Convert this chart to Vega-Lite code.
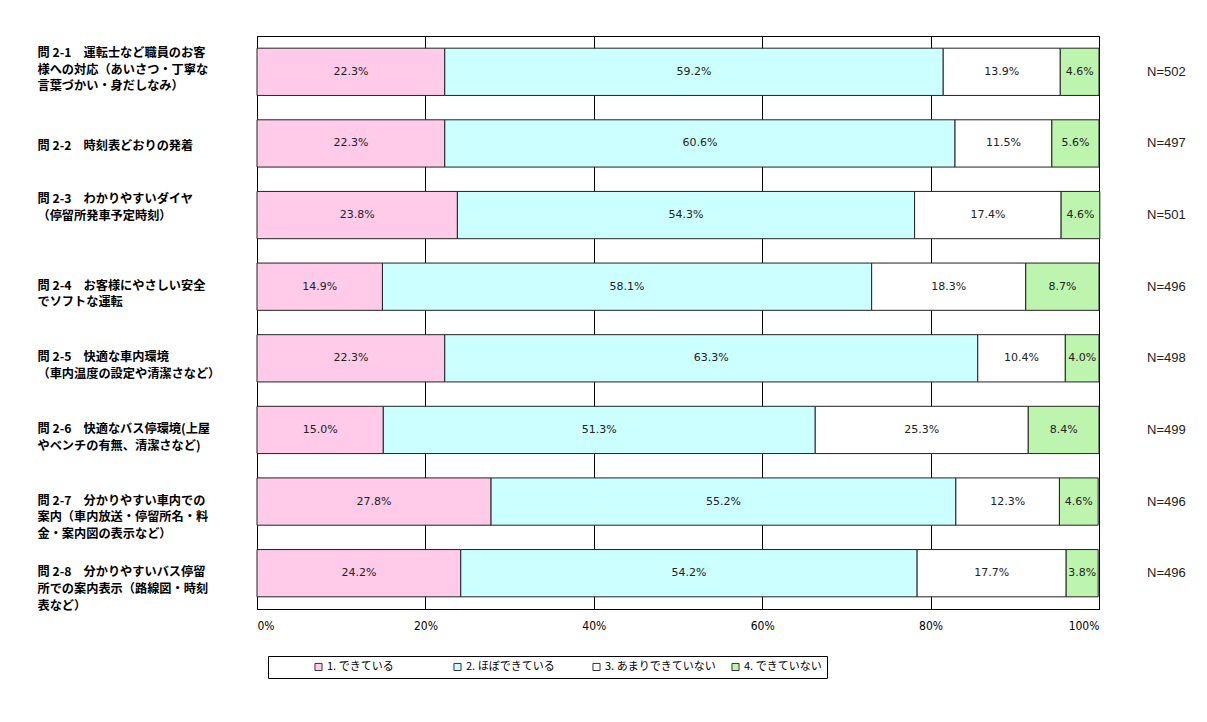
{
  "$schema": "https://vega.github.io/schema/vega-lite/v6.json",
  "width": 842,
  "height": 573,
  "padding": {"left": 37, "top": 36, "right": 5, "bottom": 5},
  "background": "white",
  "datasets": {
    "main": [
      {"q": "問 2-1　運転士など職員のお客|様への対応（あいさつ・丁寧な|言葉づかい・身だしなみ）", "cat": "1. できている", "ord": 1, "v": 22.3, "label": "22.3%"},
      {"q": "問 2-1　運転士など職員のお客|様への対応（あいさつ・丁寧な|言葉づかい・身だしなみ）", "cat": "2. ほぼできている", "ord": 2, "v": 59.2, "label": "59.2%"},
      {"q": "問 2-1　運転士など職員のお客|様への対応（あいさつ・丁寧な|言葉づかい・身だしなみ）", "cat": "3. あまりできていない", "ord": 3, "v": 13.9, "label": "13.9%"},
      {"q": "問 2-1　運転士など職員のお客|様への対応（あいさつ・丁寧な|言葉づかい・身だしなみ）", "cat": "4. できていない", "ord": 4, "v": 4.6, "label": "4.6%"},
      {"q": "問 2-2　時刻表どおりの発着", "cat": "1. できている", "ord": 1, "v": 22.3, "label": "22.3%"},
      {"q": "問 2-2　時刻表どおりの発着", "cat": "2. ほぼできている", "ord": 2, "v": 60.6, "label": "60.6%"},
      {"q": "問 2-2　時刻表どおりの発着", "cat": "3. あまりできていない", "ord": 3, "v": 11.5, "label": "11.5%"},
      {"q": "問 2-2　時刻表どおりの発着", "cat": "4. できていない", "ord": 4, "v": 5.6, "label": "5.6%"},
      {"q": "問 2-3　わかりやすいダイヤ|（停留所発車予定時刻）", "cat": "1. できている", "ord": 1, "v": 23.8, "label": "23.8%"},
      {"q": "問 2-3　わかりやすいダイヤ|（停留所発車予定時刻）", "cat": "2. ほぼできている", "ord": 2, "v": 54.3, "label": "54.3%"},
      {"q": "問 2-3　わかりやすいダイヤ|（停留所発車予定時刻）", "cat": "3. あまりできていない", "ord": 3, "v": 17.4, "label": "17.4%"},
      {"q": "問 2-3　わかりやすいダイヤ|（停留所発車予定時刻）", "cat": "4. できていない", "ord": 4, "v": 4.6, "label": "4.6%"},
      {"q": "問 2-4　お客様にやさしい安全|でソフトな運転", "cat": "1. できている", "ord": 1, "v": 14.9, "label": "14.9%"},
      {"q": "問 2-4　お客様にやさしい安全|でソフトな運転", "cat": "2. ほぼできている", "ord": 2, "v": 58.1, "label": "58.1%"},
      {"q": "問 2-4　お客様にやさしい安全|でソフトな運転", "cat": "3. あまりできていない", "ord": 3, "v": 18.3, "label": "18.3%"},
      {"q": "問 2-4　お客様にやさしい安全|でソフトな運転", "cat": "4. できていない", "ord": 4, "v": 8.7, "label": "8.7%"},
      {"q": "問 2-5　快適な車内環境|（車内温度の設定や清潔さなど）", "cat": "1. できている", "ord": 1, "v": 22.3, "label": "22.3%"},
      {"q": "問 2-5　快適な車内環境|（車内温度の設定や清潔さなど）", "cat": "2. ほぼできている", "ord": 2, "v": 63.3, "label": "63.3%"},
      {"q": "問 2-5　快適な車内環境|（車内温度の設定や清潔さなど）", "cat": "3. あまりできていない", "ord": 3, "v": 10.4, "label": "10.4%"},
      {"q": "問 2-5　快適な車内環境|（車内温度の設定や清潔さなど）", "cat": "4. できていない", "ord": 4, "v": 4.0, "label": "4.0%"},
      {"q": "問 2-6　快適なバス停環境(上屋|やベンチの有無、清潔さなど)", "cat": "1. できている", "ord": 1, "v": 15.0, "label": "15.0%"},
      {"q": "問 2-6　快適なバス停環境(上屋|やベンチの有無、清潔さなど)", "cat": "2. ほぼできている", "ord": 2, "v": 51.3, "label": "51.3%"},
      {"q": "問 2-6　快適なバス停環境(上屋|やベンチの有無、清潔さなど)", "cat": "3. あまりできていない", "ord": 3, "v": 25.3, "label": "25.3%"},
      {"q": "問 2-6　快適なバス停環境(上屋|やベンチの有無、清潔さなど)", "cat": "4. できていない", "ord": 4, "v": 8.4, "label": "8.4%"},
      {"q": "問 2-7　分かりやすい車内での|案内（車内放送・停留所名・料|金・案内図の表示など）", "cat": "1. できている", "ord": 1, "v": 27.8, "label": "27.8%"},
      {"q": "問 2-7　分かりやすい車内での|案内（車内放送・停留所名・料|金・案内図の表示など）", "cat": "2. ほぼできている", "ord": 2, "v": 55.2, "label": "55.2%"},
      {"q": "問 2-7　分かりやすい車内での|案内（車内放送・停留所名・料|金・案内図の表示など）", "cat": "3. あまりできていない", "ord": 3, "v": 12.3, "label": "12.3%"},
      {"q": "問 2-7　分かりやすい車内での|案内（車内放送・停留所名・料|金・案内図の表示など）", "cat": "4. できていない", "ord": 4, "v": 4.6, "label": "4.6%"},
      {"q": "問 2-8　分かりやすいバス停留|所での案内表示（路線図・時刻|表など）", "cat": "1. できている", "ord": 1, "v": 24.2, "label": "24.2%"},
      {"q": "問 2-8　分かりやすいバス停留|所での案内表示（路線図・時刻|表など）", "cat": "2. ほぼできている", "ord": 2, "v": 54.2, "label": "54.2%"},
      {"q": "問 2-8　分かりやすいバス停留|所での案内表示（路線図・時刻|表など）", "cat": "3. あまりできていない", "ord": 3, "v": 17.7, "label": "17.7%"},
      {"q": "問 2-8　分かりやすいバス停留|所での案内表示（路線図・時刻|表など）", "cat": "4. できていない", "ord": 4, "v": 3.8, "label": "3.8%"}
    ],
    "n": [
      {"q": "問 2-1　運転士など職員のお客|様への対応（あいさつ・丁寧な|言葉づかい・身だしなみ）", "N": "N=502"},
      {"q": "問 2-2　時刻表どおりの発着", "N": "N=497"},
      {"q": "問 2-3　わかりやすいダイヤ|（停留所発車予定時刻）", "N": "N=501"},
      {"q": "問 2-4　お客様にやさしい安全|でソフトな運転", "N": "N=496"},
      {"q": "問 2-5　快適な車内環境|（車内温度の設定や清潔さなど）", "N": "N=498"},
      {"q": "問 2-6　快適なバス停環境(上屋|やベンチの有無、清潔さなど)", "N": "N=499"},
      {"q": "問 2-7　分かりやすい車内での|案内（車内放送・停留所名・料|金・案内図の表示など）", "N": "N=496"},
      {"q": "問 2-8　分かりやすいバス停留|所での案内表示（路線図・時刻|表など）", "N": "N=496"}
    ]
  },
  "encoding": {
    "y": {
      "field": "q",
      "type": "nominal",
      "sort": null,
      "title": null,
      "scale": {"paddingInner": 0.34, "paddingOuter": 0.17},
      "axis": {
        "orient": "left",
        "domain": false,
        "ticks": false,
        "grid": false,
        "labelAlign": "left",
        "labelBaseline": "middle",
        "labelPadding": 220,
        "labelOffset": {
          "condition": [
            {"test": "indexof(datum.value, '運転士') >= 0", "value": -19},
            {"test": "indexof(datum.value, 'ダイヤ') >= 0", "value": -16},
            {"test": "indexof(datum.value, '時刻表どおり') >= 0", "value": 3}
          ],
          "value": -1
        },
        "labelExpr": "split(datum.value, '|')",
        "labelFont": "Noto Sans CJK JP",
        "labelFontWeight": "bold",
        "labelFontSize": 12.2,
        "labelLineHeight": 16.7,
        "labelColor": "#000000",
        "labelLimit": 400
      }
    }
  },
  "layer": [
    {
      "data": {"name": "main"},
      "transform": [
        {"stack": "v", "groupby": ["q"], "sort": [{"field": "ord", "order": "ascending"}], "as": ["x0", "x1"]}
      ],
      "mark": {"type": "bar", "stroke": "#222222", "strokeWidth": 1},
      "encoding": {
        "x": {
          "field": "x0",
          "type": "quantitative",
          "title": null,
          "scale": {"domain": [0, 100], "nice": false},
          "axis": {
            "values": [0, 20, 40, 60, 80, 100],
            "labelExpr": "datum.value + '%'",
            "grid": true,
            "gridColor": "#000000",
            "gridOpacity": 1,
            "gridWidth": 1,
            "domain": true,
            "domainColor": "#000000",
            "ticks": false,
            "labelPadding": 11,
            "labelFont": "Liberation Sans Narrow, DejaVu Sans Condensed, sans-serif",
            "labelFontSize": 12,
            "labelColor": "#000000"
          }
        },
        "x2": {"field": "x1"},
        "color": {
          "field": "cat",
          "type": "nominal",
          "scale": {
            "domain": ["1. できている", "2. ほぼできている", "3. あまりできていない", "4. できていない"],
            "range": ["#ffcbe9", "#ccffff", "#ffffff", "#bdf4ae"]
          },
          "legend": {
            "orient": "none",
            "legendX": 11,
            "legendY": 620,
            "direction": "horizontal",
            "gridAlign": "all",
            "title": " ",
            "titleOrient": "left",
            "titlePadding": 40,
            "columnPadding": 13,
            "padding": 5,
            "strokeColor": "#000000",
            "fillColor": "#ffffff",
            "symbolType": "square",
            "symbolSize": 50,
            "symbolStrokeColor": "#333333",
            "symbolStrokeWidth": 1,
            "symbolOffset": 0,
            "labelOffset": 3,
            "labelFont": "Noto Sans CJK JP",
            "labelFontSize": 11,
            "labelColor": "#000000",
            "labelLimit": 400
          }
        }
      }
    },
    {
      "data": {"name": "main"},
      "transform": [
        {"stack": "v", "groupby": ["q"], "sort": [{"field": "ord", "order": "ascending"}], "as": ["x0", "x1"]},
        {"calculate": "(datum.x0 + datum.x1) / 2", "as": "mid"}
      ],
      "mark": {"type": "text", "font": "DejaVu Sans, sans-serif", "fontSize": 11, "color": "#222222", "baseline": "middle", "align": "center"},
      "encoding": {
        "x": {"field": "mid", "type": "quantitative"},
        "text": {"field": "label"}
      }
    },
    {
      "data": {"name": "n"},
      "mark": {"type": "text", "font": "Liberation Sans, sans-serif", "fontSize": 13, "color": "#222222", "align": "left", "baseline": "middle", "dx": 48},
      "encoding": {
        "x": {"datum": 100},
        "text": {"field": "N"}
      }
    }
  ],
  "config": {
    "view": {"stroke": "#000000", "strokeWidth": 1}
  }
}
